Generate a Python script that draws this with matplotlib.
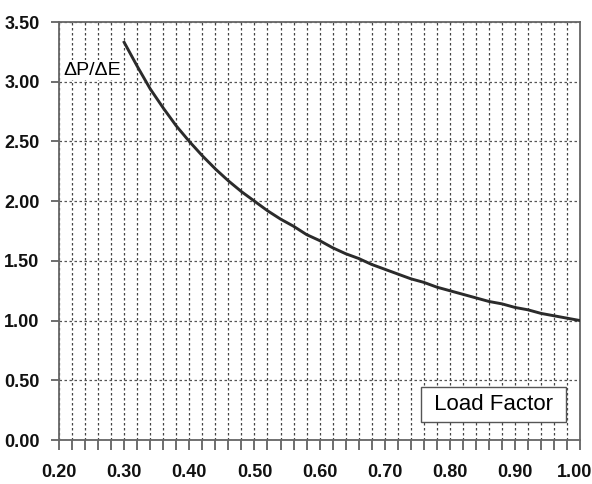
#! /usr/bin/env python3

import matplotlib

matplotlib.use("Agg")
import matplotlib.pyplot as plt
import matplotlib.transforms as mtransforms

# values
load_factor = [0.30, 0.32, 0.34, 0.36, 0.38, 0.40, 0.42, 0.44, 0.46, 0.48,
               0.50, 0.52, 0.54, 0.56, 0.58, 0.60, 0.62, 0.64, 0.66, 0.68,
               0.70, 0.72, 0.74, 0.76, 0.78, 0.80, 0.82, 0.84, 0.86, 0.88,
               0.90, 0.92, 0.94, 0.96, 0.98, 1.00]
dp_de = [3.33, 3.13, 2.94, 2.78, 2.63, 2.50, 2.38, 2.27, 2.17, 2.08,
         2.00, 1.92, 1.85, 1.79, 1.72, 1.67, 1.61, 1.56, 1.52, 1.47,
         1.43, 1.39, 1.35, 1.32, 1.28, 1.25, 1.22, 1.19, 1.16, 1.14,
         1.11, 1.09, 1.06, 1.04, 1.02, 1.00]

x_major = [0.20, 0.30, 0.40, 0.50, 0.60, 0.70, 0.80, 0.90, 1.00]
x_minor = [round(0.20 + 0.02 * i, 2) for i in range(41)]
y_major = [0.00, 0.50, 1.00, 1.50, 2.00, 2.50, 3.00, 3.50]

plt.rcParams["font.family"] = ["Liberation Sans", "DejaVu Sans"]

fig = plt.figure(figsize=(5.92, 4.84), dpi=100)
ax = fig.add_axes([0.0997, 0.0909, 0.8803, 0.8636])

ax.plot(load_factor, dp_de, color="#2b2b2b", linewidth=2.1, zorder=3,
        solid_joinstyle="round")

ax.set_xlim(0.20, 1.00)
ax.set_ylim(0.0, 3.5)

ax.set_xticks(x_major)
ax.set_xticks(x_minor, minor=True)
ax.set_yticks(y_major)
ax.set_xticklabels([f"{v:.2f}" for v in x_major])
ax.set_yticklabels([f"{v:.2f}" for v in y_major])

ax.tick_params(axis="x", which="both", direction="out", length=7,
               width=1.2, color="#555555", pad=10)
ax.tick_params(axis="y", which="major", direction="out", length=6,
               width=1.2, color="#555555", pad=8)

for lab in ax.get_xticklabels() + ax.get_yticklabels():
    lab.set_fontweight("bold")
    lab.set_fontsize(13)
    lab.set_color("#111111")

# last x label sits a little left so it stays inside the figure
last = ax.get_xticklabels()[-1]
last.set_transform(last.get_transform() + mtransforms.ScaledTranslation(
    -6 / 100, 0, fig.dpi_scale_trans))

ax.grid(which="both", axis="x", linestyle=(0, (2, 2)), color="#444444",
        linewidth=0.9)
ax.grid(which="major", axis="y", linestyle=(0, (2, 2)), color="#555555",
        linewidth=0.9)

for sp in ax.spines.values():
    sp.set_color("#666666")
    sp.set_linewidth(1.3)

ax.text(0.008, 0.885, "\u0394P/\u0394E", transform=ax.transAxes,
        fontsize=14, ha="left", va="center", color="black", zorder=4,
        bbox=dict(facecolor="white", edgecolor="none", pad=1))

ax.text(0.834, 0.085, " Load Factor ", transform=ax.transAxes,
        fontsize=16, ha="center", va="center", color="black", zorder=4,
        bbox=dict(facecolor="white", edgecolor="#555555", linewidth=1.0,
                  boxstyle="square,pad=0.3"))

fig.savefig("out.png", dpi=100)
